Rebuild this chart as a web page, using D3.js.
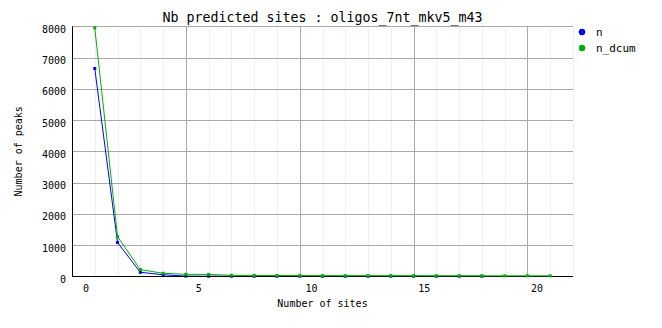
<!DOCTYPE html>
<html>
<head>
<meta charset="utf-8">
<script src="https://cdn.jsdelivr.net/npm/d3@7"></script>
<style>
  body { margin: 0; background: #fff; }
  svg { display: block; font-family: "DejaVu Sans Mono", monospace; }
</style>
</head>
<body>
<svg id="chart" width="662" height="328"></svg>
<script>
// number of sites per peak (x) and counts
const sites = [1, 2, 3, 4, 5, 6, 7, 8, 9, 10, 11, 12, 13, 14, 15, 16, 17, 18, 19, 20, 21];
const nValues = [6650, 1080, 128, 50, 6, 4, 2, 2, 1, 2, 1, 1, 1, 2, 2, 2, 2, 2, null, null, null];
const nDcumValues = [7950, 1268, 215, 96, 64, 60, 32, 28, 25, 22, 20, 20, 20, 18, 18, 16, 16, 15, 15, 15, 15];
const xTicks = [0, 5, 10, 15, 20];
const yTicks = [0, 1000, 2000, 3000, 4000, 5000, 6000, 7000, 8000];

const series = [
  { name: 'n', values: nValues, color: '#0000ff' },
  { name: 'n_dcum', values: nDcumValues, color: '#00b000' }
];

const svg = d3.select('#chart');
const plotLeft = 72, plotRight = 573, plotTop = 26.3, plotBottom = 276.3;

const x = d3.scaleLinear().domain([0, 22]).range([plotLeft, plotRight]);
const y = d3.scaleLinear().domain([0, 8000]).range([plotBottom, plotTop]);
// tick labels sit a bit to the right of their grid lines in the original
const xLabel = x.copy().range([86, 582]);

const grid = svg.append('g').attr('class', 'grid');

// faint minor grid, one per unit
grid.selectAll('line.minor')
  .data(d3.range(1, 23).filter(v => v % 5 !== 0))
  .join('line')
  .attr('class', 'minor')
  .attr('x1', d => Math.round(x(d)) + 0.5).attr('x2', d => Math.round(x(d)) + 0.5)
  .attr('y1', plotTop).attr('y2', plotBottom)
  .attr('stroke', '#efefef');

grid.selectAll('line.major')
  .data(xTicks.filter(v => v > 0))
  .join('line')
  .attr('class', 'major')
  .attr('x1', d => Math.round(x(d)) + 0.5).attr('x2', d => Math.round(x(d)) + 0.5)
  .attr('y1', plotTop).attr('y2', plotBottom)
  .attr('stroke', '#aaaaaa');

grid.selectAll('line.hgrid')
  .data(yTicks.filter(v => v > 0))
  .join('line')
  .attr('class', 'hgrid')
  .attr('x1', plotLeft).attr('x2', plotRight)
  .attr('y1', d => Math.round(y(d)) + 0.5).attr('y2', d => Math.round(y(d)) + 0.5)
  .attr('stroke', '#aaaaaa');

const line = d3.line()
  .defined(d => d.v != null)
  .x(d => x(d.x))
  .y(d => y(d.v));

function drawSeries(s) {
  const pts = sites.map((xv, i) => ({ x: xv, v: s.values[i] }));
  const g = svg.append('g').attr('class', 'series-' + s.name);
  g.append('path')
    .datum(pts)
    .attr('d', line)
    .attr('fill', 'none')
    .attr('stroke', s.color)
    .attr('stroke-width', 1);
  g.selectAll('rect')
    .data(pts.filter(d => d.v != null))
    .join('rect')
    .attr('x', d => x(d.x) - 1.5)
    .attr('y', d => y(d.v) - 1.5)
    .attr('width', 3).attr('height', 3)
    .attr('fill', s.color);
}

drawSeries(series[0]);

// axes (drawn over the blue series like the original)
svg.append('line')
  .attr('x1', plotLeft + 0.5).attr('x2', plotLeft + 0.5)
  .attr('y1', plotTop).attr('y2', plotBottom + 0.5)
  .attr('stroke', '#000');
svg.append('line')
  .attr('x1', plotLeft).attr('x2', plotRight)
  .attr('y1', Math.round(plotBottom) + 0.5).attr('y2', Math.round(plotBottom) + 0.5)
  .attr('stroke', '#000');

drawSeries(series[1]);

// tick labels
svg.append('g').selectAll('text')
  .data(xTicks)
  .join('text')
  .attr('x', d => xLabel(d))
  .attr('y', 292)
  .attr('text-anchor', 'middle')
  .attr('font-size', 10)
  .text(d => d);

svg.append('g').selectAll('text')
  .data(yTicks)
  .join('text')
  .attr('x', 66)
  .attr('y', d => y(d) + 6.5)
  .attr('text-anchor', 'end')
  .attr('font-size', 10)
  .text(d => d);

// titles
svg.append('text')
  .attr('x', (plotLeft + plotRight) / 2).attr('y', 22)
  .attr('text-anchor', 'middle')
  .attr('font-size', 13.3)
  .text('Nb predicted sites : oligos_7nt_mkv5_m43');

svg.append('text')
  .attr('x', (plotLeft + plotRight) / 2).attr('y', 307)
  .attr('text-anchor', 'middle')
  .attr('font-size', 10)
  .text('Number of sites');

svg.append('text')
  .attr('transform', `translate(22,${(plotTop + plotBottom) / 2}) rotate(-90)`)
  .attr('text-anchor', 'middle')
  .attr('font-size', 10)
  .text('Number of peaks');

// legend
const legend = svg.append('g').selectAll('g')
  .data(series)
  .join('g')
  .attr('transform', (d, i) => `translate(582,${32 + i * 16})`);
legend.append('circle')
  .attr('r', 3.2)
  .attr('fill', d => d.color);
legend.append('text')
  .attr('x', 14).attr('y', 4)
  .attr('font-size', 11)
  .text(d => d.name);
</script>
</body>
</html>
